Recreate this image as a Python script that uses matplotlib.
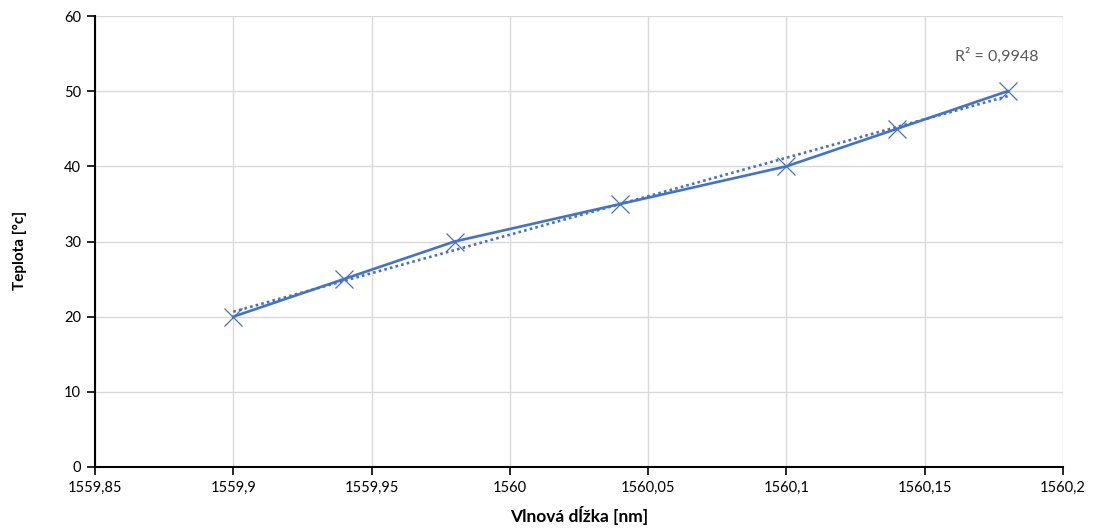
import numpy as np
import matplotlib
matplotlib.use("Agg")
import matplotlib.pyplot as plt
from matplotlib.ticker import FixedLocator, FixedFormatter

plt.rcParams['font.family'] = ['Lato', 'DejaVu Sans']

# Measured points
wavelength_nm = [1559.90, 1559.94, 1559.98, 1560.04, 1560.10, 1560.14, 1560.18]
temperature_c = [20, 25, 30, 35, 40, 45, 50]

x_ticks = [1559.85, 1559.90, 1559.95, 1560.00, 1560.05, 1560.10, 1560.15, 1560.20]
x_tick_labels = ["1559,85", "1559,9", "1559,95", "1560", "1560,05", "1560,1", "1560,15", "1560,2"]
y_ticks = [0, 10, 20, 30, 40, 50, 60]

color = "#4472C4"

fig = plt.figure(figsize=(10.94, 5.32), dpi=100)
ax = fig.add_axes([95 / 1094, 1 - 467 / 532, (1063 - 95) / 1094, (467 - 16) / 532])

x = np.array(wavelength_nm)
y = np.array(temperature_c)
ax.plot(x, y, color=color, lw=1.9, marker='x', markersize=13, markeredgewidth=0.9, zorder=3)

# Linear trendline and its coefficient of determination
k, q = np.polyfit(x, y, 1)
fit = k * x + q
r2 = 1 - np.sum((y - fit) ** 2) / np.sum((y - y.mean()) ** 2)
xf = np.array([x.min(), x.max()])
ax.plot(xf, k * xf + q, color=color, lw=1.9, linestyle=(0, (1, 1.2)), zorder=2)
ax.text(1560.176, 54.7, "R² = " + f"{r2:.4f}".replace('.', ','), ha='center', va='center',
        fontsize=11.5, color='#595959')

ax.set_xlim(1559.85, 1560.20)
ax.set_ylim(0, 60)
ax.xaxis.set_major_locator(FixedLocator(x_ticks))
ax.xaxis.set_major_formatter(FixedFormatter(x_tick_labels))
ax.set_yticks(y_ticks)

ax.grid(True, color='#d9d9d9', lw=1)
ax.set_axisbelow(True)
for s in ['top', 'right']:
    ax.spines[s].set_visible(False)
for s in ['left', 'bottom']:
    ax.spines[s].set_color('black')
    ax.spines[s].set_linewidth(1.5)
ax.tick_params(axis='both', direction='out', length=6, width=1.2, colors='black',
               labelsize=10.5, pad=4)

ax.set_xlabel("Vlnová dĺžka [nm]", fontsize=12.5, fontweight='bold', labelpad=8)
ax.set_ylabel("Teplota [°c]", fontsize=11, fontweight='bold')
ax.yaxis.set_label_coords(-0.070, 0.481)

fig.savefig("out.png", dpi=100)
